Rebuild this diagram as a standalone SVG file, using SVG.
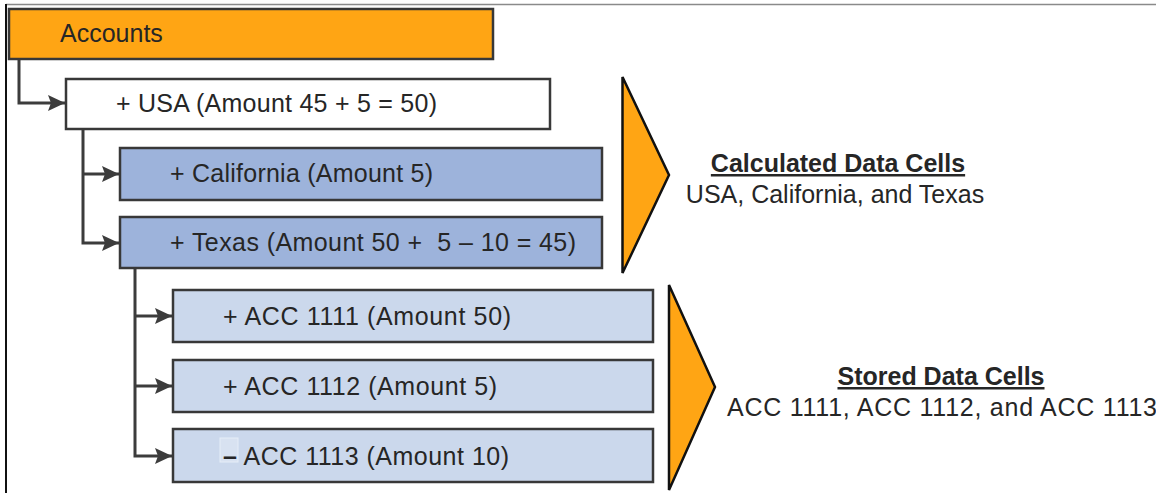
<svg xmlns="http://www.w3.org/2000/svg" width="1156" height="493" viewBox="0 0 1156 493">
<style>
.box{stroke:#383838;stroke-width:2.5}
.orange{fill:#FFA514}
.white{fill:#ffffff}
.calc{fill:#9DB3DB}
.stor{fill:#CBD8EC}
.lbl{font-family:"Liberation Sans",Arial,sans-serif;font-size:25px;fill:#262626;white-space:pre}
.hd{font-family:"Liberation Sans",Arial,sans-serif;font-size:25px;fill:#262626;font-weight:bold;text-decoration:underline}
.conn{fill:none;stroke:#3c3c3c;stroke-width:3}
.tri{fill:#FFA514;stroke:#111;stroke-width:2.5;stroke-linejoin:miter}
</style>
<defs>
<marker id="ah" markerWidth="18" markerHeight="16" refX="17" refY="8" orient="auto" markerUnits="userSpaceOnUse">
<path d="M0,0 L17,8 L0,16 L3,8 Z" fill="#3c3c3c"/>
</marker>
</defs>
<rect width="1156" height="493" fill="#ffffff"/>
<g id="frame">
<line x1="6" y1="4.5" x2="1156" y2="4.5" stroke="#8a8a8a" stroke-width="1.5"/>
<line x1="6" y1="4" x2="6" y2="493" stroke="#111" stroke-width="2"/>
</g>
<g id="connectors">
<path class="conn" d="M19,59 V103 H65" marker-end="url(#ah)"/>
<path class="conn" d="M83,129 V243 H119" marker-end="url(#ah)"/>
<path class="conn" d="M83,174 H119" marker-end="url(#ah)"/>
<path class="conn" d="M135,268 V456 H172" marker-end="url(#ah)"/>
<path class="conn" d="M135,316 H172" marker-end="url(#ah)"/>
<path class="conn" d="M135,386 H172" marker-end="url(#ah)"/>
</g>
<g id="accounts">
<rect class="box orange" x="9" y="9" width="484" height="50"/>
<text class="lbl" x="60" y="42">Accounts</text>
</g>
<g id="usa">
<rect class="box white" x="66" y="79" width="484" height="50"/>
<text class="lbl" x="116" y="112" textLength="321">+ USA (Amount 45 + 5 = 50)</text>
</g>
<g id="california">
<rect class="box calc" x="120" y="148" width="482" height="52"/>
<text class="lbl" x="170" y="182" textLength="263">+ California (Amount 5)</text>
</g>
<g id="texas">
<rect class="box calc" x="120" y="217" width="482" height="51"/>
<text class="lbl" x="170" y="251" textLength="406">+ Texas (Amount 50 +  5 – 10 = 45)</text>
</g>
<g id="acc1111">
<rect class="box stor" x="173" y="290" width="480" height="52"/>
<text class="lbl" x="223" y="325" textLength="288">+ ACC 1111 (Amount 50)</text>
</g>
<g id="acc1112">
<rect class="box stor" x="173" y="360" width="480" height="52"/>
<text class="lbl" x="223" y="395" textLength="274">+ ACC 1112 (Amount 5)</text>
</g>
<g id="acc1113">
<rect class="box stor" x="173" y="429" width="480" height="53"/>
<rect x="220" y="438" width="18" height="24" fill="#d8e2f1" stroke="#e6edf7" stroke-width="1"/>
<text class="lbl" x="223" y="465" textLength="286"><tspan font-weight="bold">–</tspan> ACC 1113 (Amount 10)</text>
</g>
<g id="calculated">
<polygon class="tri" points="622.5,77 669,175 622.5,273"/>
<text class="hd" x="838" y="172" text-anchor="middle">Calculated Data Cells</text>
<text class="lbl" x="835" y="203" text-anchor="middle">USA, California, and Texas</text>
</g>
<g id="stored">
<polygon class="tri" points="669,285 715,387 669,490"/>
<text class="hd" x="941" y="385" text-anchor="middle">Stored Data Cells</text>
<text class="lbl" x="727" y="416" textLength="430">ACC 1111, ACC 1112, and ACC 1113</text>
</g>
</svg>
